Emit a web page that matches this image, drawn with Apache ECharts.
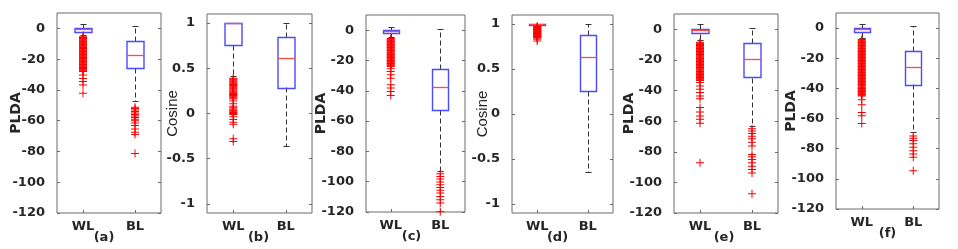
<!DOCTYPE html>
<html>
<head>
<meta charset="utf-8">
<script src="https://cdn.jsdelivr.net/npm/echarts@6/dist/echarts.min.js"></script>
<style>
html,body{margin:0;padding:0;background:#fff;}
#chart{width:958px;height:249px;}
</style>
</head>
<body>
<div id="chart"></div>
<script>
// ---------- data ----------
const categories = ['WL', 'BL'];
const panelLabels = ['(a)', '(b)', '(c)', '(d)', '(e)', '(f)'];
const yNames = ['PLDA', 'Cosine', 'PLDA', 'Cosine', 'PLDA', 'PLDA'];
const pldaTicks = [-120, -100, -80, -60, -40, -20, 0];
const cosineTicks = [-1, -0.5, 0, 0.5, 1];

// box stats: [lower whisker, q1, median, q3, upper whisker]
const aWL = [-4.5, -1.9, -0.3, 0.45, 3.0];
const aBL = [-47, -26, -17, -8.5, 1.5];
const bWL = [0.41, 0.76, 1.0, 1.0, 1.0];
const bBL = [-0.36, 0.29, 0.61, 0.85, 1.0];
const cWL = [-4.5, -2.0, -0.5, 0.2, 2.0];
const cBL = [-93, -52.7, -37.8, -25.5, 0.7];
const dWL = [0.98, 0.99, 1.0, 1.0, 1.0];
const dBL = [-0.64, 0.256, 0.63, 0.874, 1.0];
const eWL = [-7, -2.9, -0.6, 0, 3.3];
const eBL = [-63, -31.5, -19.7, -9, 0.9];
const fWL = [-6.5, -2.7, -0.5, 0, 2.7];
const fBL = [-69, -37.4, -25.5, -14.9, 1.5];

// outliers
const aWLout = [-5.5, -6, -6.5, -7, -7.5, -8, -8.5, -9, -9.5, -10, -10.5, -11, -11.5, -12, -12.5, -13, -13.5, -14, -14.5, -15, -15.5, -16, -16.5, -17, -17.5, -18, -18.5, -19, -19.5, -20, -20.5, -21, -21.5, -22, -22.5, -23, -23.5, -24, -24.5, -25, -25.5, -26, -26.5, -27, -27.5, -28, -30.3, -32.5, -34.6, -36.8, -42.2];
const aBLout = [-51.2, -52, -53, -54, -55, -56, -57, -58, -59, -60, -61.5, -63.2, -65.4, -67.5, -69, -81.3];
const bWLout = [0.39, 0.38, 0.37, 0.36, 0.35, 0.34, 0.33, 0.32, 0.31, 0.30, 0.29, 0.28, 0.27, 0.26, 0.25, 0.24, 0.23, 0.22, 0.21, 0.20, 0.19, 0.18, 0.17, 0.16, 0.137, 0.108, 0.08, 0.063, 0.05, 0.04, 0.03, 0.02, 0.01, 0.0, -0.011, -0.037, -0.067, -0.096, -0.12, -0.28, -0.31];
const bBLout = [];
const cWLout = [-5.5, -6, -6.5, -7, -7.5, -8, -8.5, -9, -9.5, -10, -10.5, -11, -11.5, -12, -12.5, -13, -13.5, -14, -14.5, -15, -15.5, -16, -16.5, -17, -17.5, -18, -18.5, -19, -19.5, -20, -20.5, -21, -21.5, -22, -22.5, -23, -23.5, -24, -25.5, -27.3, -29.5, -31.7, -36, -38.2, -40.5, -43.1];
const cBLout = [-94.7, -96.5, -98.2, -100.2, -102, -103.8, -105.7, -107.5, -109.7, -111.9, -114, -119.8];
const dWLout = [0.975, 0.97, 0.965, 0.96, 0.955, 0.95, 0.945, 0.94, 0.935, 0.93, 0.925, 0.92, 0.915, 0.91, 0.905, 0.9, 0.895, 0.89, 0.885, 0.88, 0.875, 0.87, 0.865, 0.86, 0.855, 0.85, 0.845, 0.83, 0.81];
const dBLout = [];
const eWLout = [-8.5, -9, -9.5, -10, -10.5, -11, -11.5, -12, -12.5, -13, -13.5, -14, -14.5, -15, -15.5, -16, -16.5, -17, -17.5, -18, -18.5, -19, -19.5, -20, -20.5, -21, -21.5, -22, -22.5, -23, -23.5, -24, -24.5, -25, -25.5, -26, -26.5, -27, -27.5, -28, -28.5, -29, -29.5, -30, -30.5, -31, -31.5, -32, -32.5, -33, -33.5, -34.8, -37, -39.1, -41.3, -43.5, -45.3, -51.1, -54, -56.6, -58.8, -61.4, -87.2];
const eBLout = [-65, -66.5, -68, -69.8, -71.5, -73.7, -76.3, -81.8, -83.3, -85, -87.2, -89.4, -91.6, -93.8, -107.5];
const fWLout = [-7.5, -8, -8.5, -9, -9.5, -10, -10.5, -11, -11.5, -12, -12.5, -13, -13.5, -14, -14.5, -15, -15.5, -16, -16.5, -17, -17.5, -18, -18.5, -19, -19.5, -20, -20.5, -21, -21.5, -22, -22.5, -23, -23.5, -24, -24.5, -25, -25.5, -26, -26.5, -27, -27.5, -28, -28.5, -29, -29.5, -30, -30.5, -31, -31.5, -32, -32.5, -33, -33.5, -34, -34.5, -35, -35.5, -36, -36.5, -37, -37.5, -38, -38.5, -39, -39.5, -40, -40.5, -41, -41.5, -42, -42.5, -43, -43.5, -44, -44.5, -45, -47.6, -50.9, -56, -58.2, -63.3];
const fBLout = [-71.5, -73, -74.6, -76.8, -79, -81.3, -83.5, -85.7, -94.6];

const panels = [
  {wl: aWL, bl: aBL, wlo: aWLout, blo: aBLout, kind: 'plda'},
  {wl: bWL, bl: bBL, wlo: bWLout, blo: bBLout, kind: 'cos'},
  {wl: cWL, bl: cBL, wlo: cWLout, blo: cBLout, kind: 'plda'},
  {wl: dWL, bl: dBL, wlo: dWLout, blo: dBLout, kind: 'cos'},
  {wl: eWL, bl: eBL, wlo: eWLout, blo: eBLout, kind: 'plda'},
  {wl: fWL, bl: fBL, wlo: fWLout, blo: fBLout, kind: 'plda'}
];

// ---------- layout ----------
const rects = [
  {left: 57, top: 13, width: 104, height: 201},
  {left: 207, top: 14, width: 105, height: 199},
  {left: 366, top: 15, width: 99, height: 197},
  {left: 512, top: 15, width: 101, height: 199},
  {left: 674, top: 14, width: 104, height: 199},
  {left: 836, top: 13, width: 103, height: 196}
];
const nameGaps = [34, 27, 38, 22, 38, 38];
const labelShift = [5, 1, 4, 5, 2, 0];

const AX = '#6a6a6a';
const TXT = '#262626';
const FONT = 'DejaVu Sans';
const plus = 'path://M3.5,0h1v3.5h3.5v1h-3.5v3.5h-1v-3.5h-3.5v-1h3.5z';

function renderBox(params, api) {
  const x = api.value(0);
  const lo = api.coord([x, api.value(1)]);
  const q1 = api.coord([x, api.value(2)]);
  const md = api.coord([x, api.value(3)]);
  const q3 = api.coord([x, api.value(4)]);
  const hi = api.coord([x, api.value(5)]);
  const band = api.size([1, 0])[0];
  const bw = Math.round(band * 0.32);
  const cw = Math.round(band * 0.12);
  const cx = Math.round(q1[0]) + 0.5;
  const r = v => Math.round(v) + 0.5;
  const dashStyle = {stroke: '#333', lineWidth: 1, lineDash: [5, 3]};
  const solid = {stroke: '#333', lineWidth: 1};
  return {
    type: 'group',
    children: [
      {type: 'line', shape: {x1: cx, y1: r(q3[1]), x2: cx, y2: r(hi[1])}, style: dashStyle},
      {type: 'line', shape: {x1: cx, y1: r(q1[1]), x2: cx, y2: r(lo[1])}, style: dashStyle},
      {type: 'line', shape: {x1: cx - cw / 2, y1: r(hi[1]), x2: cx + cw / 2, y2: r(hi[1])}, style: solid},
      {type: 'line', shape: {x1: cx - cw / 2, y1: r(lo[1]), x2: cx + cw / 2, y2: r(lo[1])}, style: solid},
      {type: 'rect', shape: {x: cx - bw / 2, y: r(q3[1]), width: bw, height: Math.max(1, Math.round(q1[1] - q3[1]))},
        style: {fill: 'none', stroke: '#4a4aff', lineWidth: 1.4}},
      {type: 'line', shape: {x1: cx - bw / 2, y1: r(md[1]), x2: cx + bw / 2, y2: r(md[1])},
        style: {stroke: '#ff4a4a', lineWidth: 1.3}}
    ]
  };
}

const grid = [], xAxis = [], yAxis = [], series = [];
panels.forEach((p, i) => {
  const isCos = p.kind === 'cos';
  const ymin = isCos ? -1.1 : -120;
  const ymax = isCos ? 1.1 : 10;
  const ticks = isCos ? cosineTicks : pldaTicks;
  grid.push(Object.assign({show: true, borderColor: AX, borderWidth: 1, containLabel: false}, rects[i]));
  xAxis.push({
    type: 'category', gridIndex: i, data: categories, position: 'bottom',
    boundaryGap: true,
    axisLine: {show: false, onZero: false},
    axisTick: {show: true, inside: true, alignWithLabel: true, length: 3, lineStyle: {color: AX}},
    axisLabel: {margin: 7, color: TXT, fontFamily: FONT, fontWeight: 'bold', fontSize: 13},
    splitLine: {show: false},
    name: panelLabels[i], nameLocation: 'middle', nameGap: 18, nameMoveOverlap: false,
    nameTextStyle: {color: TXT, fontFamily: FONT, fontWeight: 'bold', fontSize: 13, verticalAlign: 'top',
      padding: [0, 2 * labelShift[i], 0, 0]}
  });
  yAxis.push({
    type: 'value', gridIndex: i, min: ymin, max: ymax, position: 'left',
    axisLine: {show: false, onZero: false},
    axisTick: {show: true, inside: true, length: 3, customValues: ticks, lineStyle: {color: AX}},
    axisLabel: {show: true, customValues: ticks, margin: 12, color: TXT, fontFamily: FONT, fontWeight: 'bold', fontSize: 13},
    splitLine: {show: false},
    name: yNames[i], nameLocation: 'middle', nameRotate: 90, nameGap: nameGaps[i], nameMoveOverlap: false,
    nameTextStyle: isCos
      ? {color: TXT, fontFamily: 'Liberation Sans', fontWeight: 'normal', fontSize: 15}
      : {color: TXT, fontFamily: FONT, fontWeight: 'bold', fontSize: 14}
  });
  yAxis.push({
    type: 'value', gridIndex: i, min: ymin, max: ymax, position: 'right',
    axisLine: {show: false, onZero: false},
    axisTick: {show: true, inside: true, length: 3, customValues: ticks, lineStyle: {color: AX}},
    axisLabel: {show: false},
    splitLine: {show: false}
  });
  series.push({
    type: 'custom', xAxisIndex: i, yAxisIndex: 2 * i,
    renderItem: renderBox,
    encode: {x: 0, y: [1, 2, 3, 4, 5]},
    data: [[0].concat(p.wl), [1].concat(p.bl)],
    silent: true, z: 2
  });
  const outs = p.wlo.map(v => [0, v]).concat(p.blo.map(v => [1, v]));
  series.push({
    type: 'scatter', xAxisIndex: i, yAxisIndex: 2 * i,
    symbol: plus, symbolSize: 8,
    itemStyle: {color: '#ff0000', opacity: 1},
    data: outs, silent: true, z: 3
  });
});

const chart = echarts.init(document.getElementById('chart'), null, {renderer: 'canvas'});
chart.setOption({
  animation: false,
  backgroundColor: '#ffffff',
  grid, xAxis, yAxis, series
});
</script>
</body>
</html>
